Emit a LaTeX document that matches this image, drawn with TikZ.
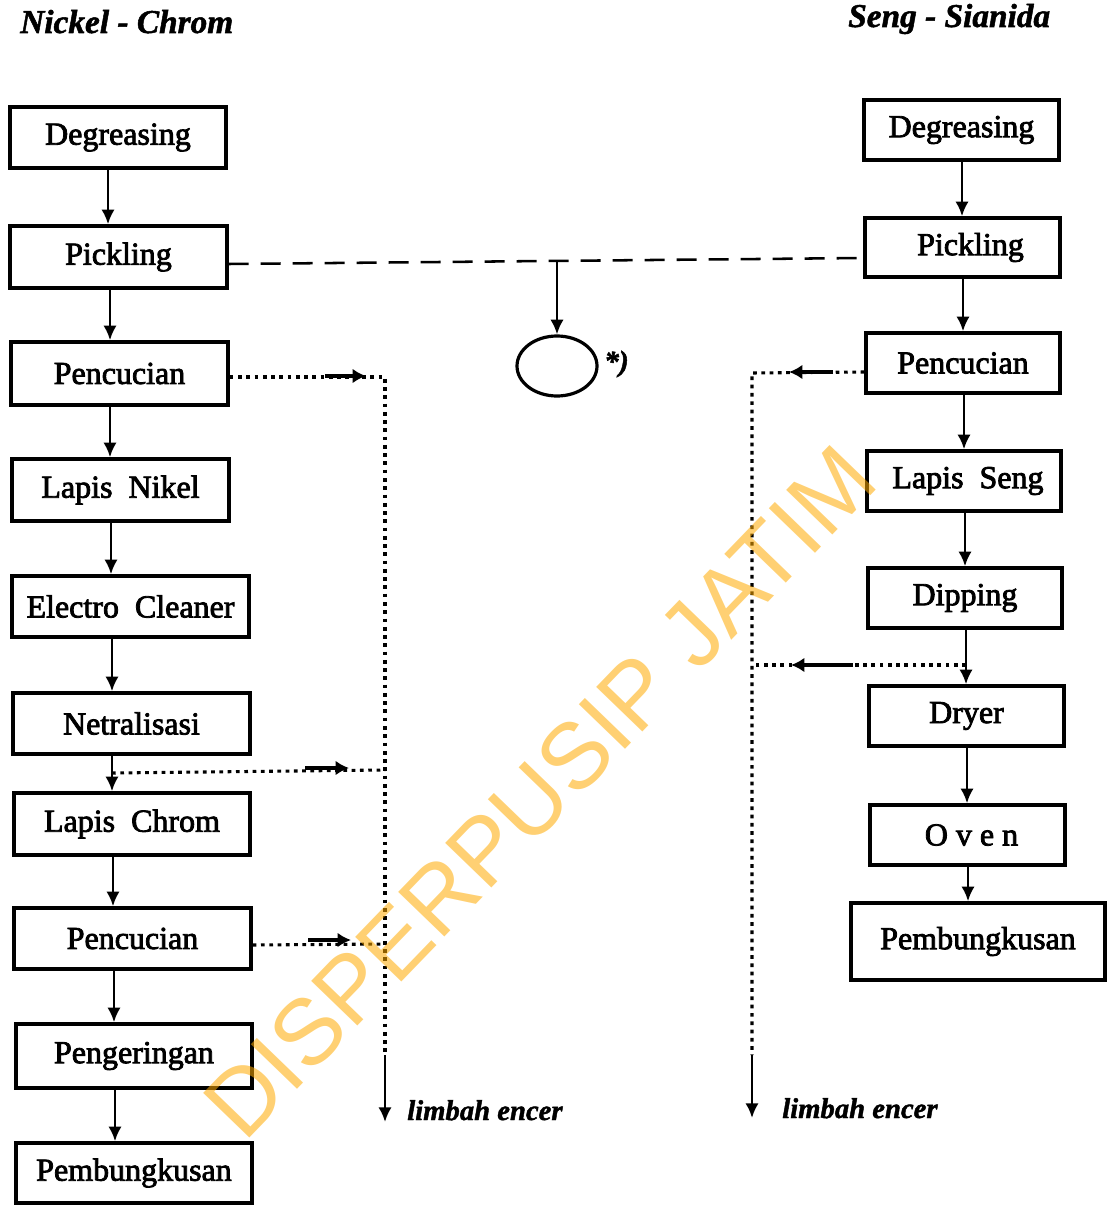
\documentclass[tikz,border=0pt]{standalone}
\usepackage{fontspec}
\setmainfont{Liberation Serif}
\newfontfamily\boxfont{Liberation Serif}[FakeBold=2.5]
\newfontfamily\ttlfont{Liberation Serif Bold Italic}[FakeBold=1.5]
\newfontfamily\wmfont{Liberation Sans}
\usetikzlibrary{arrows.meta,shapes.geometric}
\definecolor{wm}{RGB}{255,170,0}
\begin{document}
\begin{tikzpicture}[x=0.75pt,y=-0.75pt,
  box/.style={draw, line width=2.6pt, rectangle, inner sep=0pt,
    font=\boxfont\fontsize{24}{28}\selectfont},
  arr/.style={line width=2pt, -{Latex[length=11pt,width=10pt]}},
  flowmark/.style={line width=2.8pt, -{Latex[length=10pt,width=11pt]}},
  dots/.style={line width=2.3pt, dash pattern=on 2.8pt off 3.4pt},
  dsh/.style={line width=1.9pt, dash pattern=on 15pt off 9pt},
  ttl/.style={font=\ttlfont\fontsize{25}{28}\selectfont, anchor=base west, inner sep=0pt},
  lbl/.style={font=\ttlfont\fontsize{21.5}{24}\selectfont, anchor=base west, inner sep=0pt},
]
\useasboundingbox (0,0) rectangle (1109,1206);

% titles
\node[ttl] (T1) at (20,33) {Nickel - Chrom};
\node[ttl] (T2) at (848,27) {Seng - Sianida};

% left column
\node[box, minimum width=216*0.75pt, minimum height=61*0.75pt] (L1) at (118,137.5) {Degreasing};
\node[box, minimum width=217*0.75pt, minimum height=62*0.75pt] (L2) at (118.5,257) {Pickling};
\node[box, minimum width=217*0.75pt, minimum height=63*0.75pt] (L3) at (119.5,373.5) {Pencucian};
\node[box, minimum width=217*0.75pt, minimum height=62*0.75pt] (L4) at (120.5,490) {Lapis\ \ Nikel};
\node[box, minimum width=237*0.75pt, minimum height=61*0.75pt] (L5) at (130.5,606.5) {Electro\ \ Cleaner};
\node[box, minimum width=237*0.75pt, minimum height=61*0.75pt] (L6) at (131.5,723.5) {Netralisasi};
\node[box, minimum width=236*0.75pt, minimum height=62*0.75pt] (L7) at (132,824) {Lapis\ \ Chrom};
\node[box, minimum width=237*0.75pt, minimum height=61*0.75pt] (L8) at (132.5,938.5) {Pencucian};
\node[box, minimum width=236*0.75pt, minimum height=64*0.75pt] (L9) at (134,1056) {Pengeringan};
\node[box, minimum width=236*0.75pt, minimum height=60*0.75pt] (L10) at (134,1173) {Pembungkusan};

% right column
\node[box, minimum width=195*0.75pt, minimum height=60*0.75pt] (R1) at (961.5,130) {Degreasing};
\node[box, minimum width=195*0.75pt, minimum height=59*0.75pt] (R2) at (962.5,247.5) {\ \ Pickling};
\node[box, minimum width=194*0.75pt, minimum height=60*0.75pt] (R3) at (963,363) {Pencucian};
\node[box, minimum width=194*0.75pt, minimum height=60*0.75pt] (R4) at (964,481) {\ Lapis\ \ Seng};
\node[box, minimum width=194*0.75pt, minimum height=60*0.75pt] (R5) at (965,598) {Dipping};
\node[box, minimum width=195*0.75pt, minimum height=60*0.75pt] (R6) at (966.5,716) {Dryer};
\node[box, minimum width=195*0.75pt, minimum height=60*0.75pt] (R7) at (967.5,835) {\ O v e n};
\node[box, minimum width=254*0.75pt, minimum height=77*0.75pt] (R8) at (978,941.5) {Pembungkusan};

% arrow columns
\coordinate (a1) at (108,0); \coordinate (a2) at (110,0); \coordinate (a3) at (110,0);
\coordinate (a4) at (111,0); \coordinate (a5) at (112,0); \coordinate (a6) at (112,0);
\coordinate (a7) at (113,0); \coordinate (a8) at (114,0); \coordinate (a9) at (115,0);
\draw[arr] (L1.south -| a1) -- (L2.north -| a1);
\draw[arr] (L2.south -| a2) -- (L3.north -| a2);
\draw[arr] (L3.south -| a3) -- (L4.north -| a3);
\draw[arr] (L4.south -| a4) -- (L5.north -| a4);
\draw[arr] (L5.south -| a5) -- (L6.north -| a5);
\draw[arr] (L6.south -| a6) -- (L7.north -| a6);
\draw[arr] (L7.south -| a7) -- (L8.north -| a7);
\draw[arr] (L8.south -| a8) -- (L9.north -| a8);
\draw[arr] (L9.south -| a9) -- (L10.north -| a9);

\coordinate (b1) at (962,0); \coordinate (b2) at (963,0); \coordinate (b3) at (964,0);
\coordinate (b4) at (965,0); \coordinate (b5) at (966,0); \coordinate (b6) at (967,0);
\coordinate (b7) at (968,0);
\draw[arr] (R1.south -| b1) -- (R2.north -| b1);
\draw[arr] (R2.south -| b2) -- (R3.north -| b2);
\draw[arr] (R3.south -| b3) -- (R4.north -| b3);
\draw[arr] (R4.south -| b4) -- (R5.north -| b4);
\draw[arr] (R5.south -| b5) -- (R6.north -| b5);
\draw[arr] (R6.south -| b6) -- (R7.north -| b6);
\draw[arr] (R7.south -| b7) -- (R8.north -| b7);

% pickling dashed line and ellipse
\coordinate (d1) at (0,264); \coordinate (d2) at (0,258);
\coordinate (J) at (557,261);
\node[draw, ellipse, line width=2.4pt, minimum width=80*0.75pt, minimum height=60*0.75pt, inner sep=0pt] (E) at (557,366) {};
\node[font=\ttlfont\fontsize{22}{24}\selectfont, anchor=west, inner sep=0pt] (star) at (604,364) {*)};
\draw[dsh] (L2.east |- d1) -- (R2.west |- d2);
\draw[arr] (J) -- (E.north);

% left collector
\coordinate (cL) at (385,377);
\coordinate (cLb) at (385,1055);
\coordinate (cLe) at (385,1122);
\coordinate (nb) at (112,773);
\draw[dots] (L3.east |- cL) -- (cL) -- (cLb);
\draw[dots] (nb) -- (385,770);
\draw[dots] (L8.east |- 0,945) -- (385,944);
\draw[arr] (cLb) -- (cLe);
\draw[flowmark] (325,376) -- (366,376);
\draw[flowmark] (305,768) -- (349,768);
\draw[flowmark] (308,940) -- (351,940);
\node[lbl] (W1) at (407,1120) {limbah encer};

% right collector
\coordinate (cR) at (752,373);
\coordinate (cRb) at (752,1055);
\coordinate (cRe) at (752,1118);
\coordinate (rb) at (966,665);
\draw[dots] (R3.west |- 0,372) -- (cR) -- (cRb);
\draw[dots] (rb) -- (752,665);
\draw[arr] (cRb) -- (cRe);
\draw[flowmark] (833,372) -- (789,372);
\draw[flowmark] (853,665) -- (791,665);
\node[lbl] (W2) at (782,1118) {limbah encer};

% watermark
\node[text=wm, text opacity=0.55, font=\wmfont\fontsize{70}{70}\selectfont, rotate=46, inner sep=0pt] (WM) at (540,792) {DISPERPUSIP JATIM};
\end{tikzpicture}
\end{document}
